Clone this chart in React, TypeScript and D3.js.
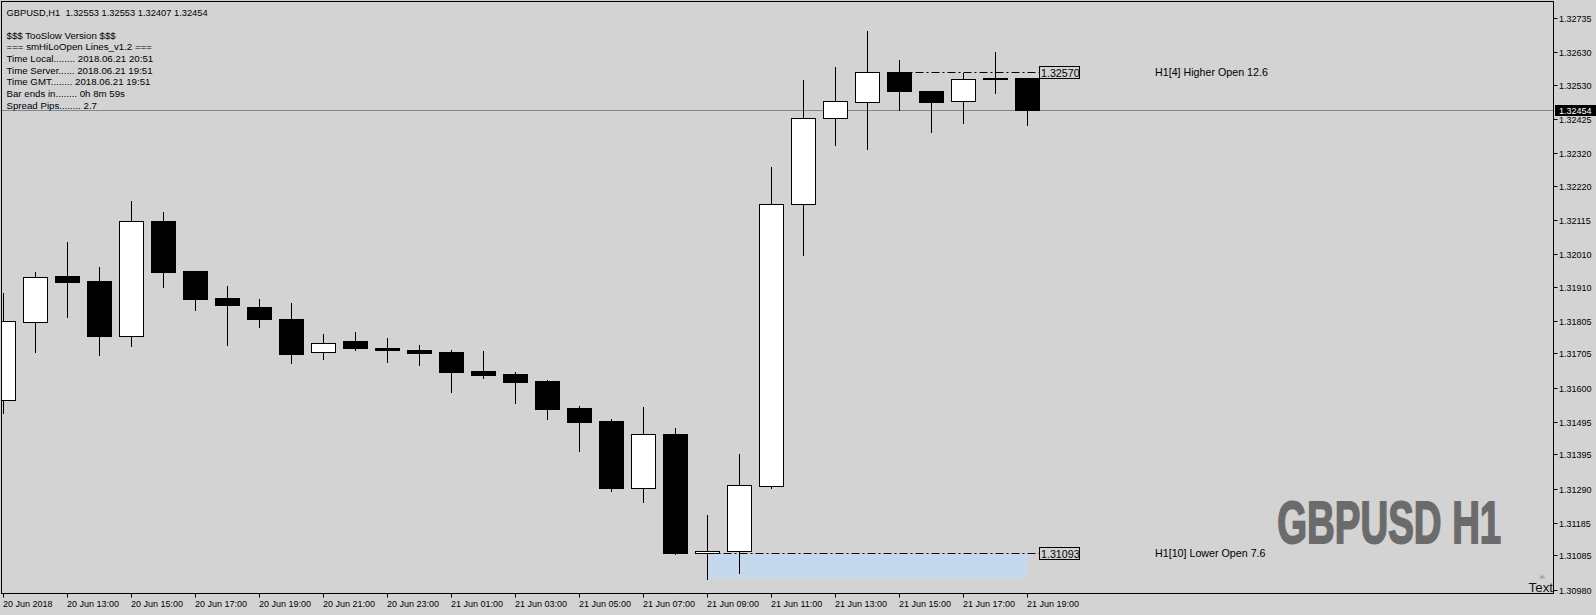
import React from "react";
import * as d3 from "d3";

// ---- data (GBPUSD H1) ----
const barTimes = [
  "2018-06-20 11:00", "2018-06-20 12:00", "2018-06-20 13:00", "2018-06-20 14:00",
  "2018-06-20 15:00", "2018-06-20 16:00", "2018-06-20 17:00", "2018-06-20 18:00",
  "2018-06-20 19:00", "2018-06-20 20:00", "2018-06-20 21:00", "2018-06-20 22:00",
  "2018-06-20 23:00", "2018-06-21 00:00", "2018-06-21 01:00", "2018-06-21 02:00",
  "2018-06-21 03:00", "2018-06-21 04:00", "2018-06-21 05:00", "2018-06-21 06:00",
  "2018-06-21 07:00", "2018-06-21 08:00", "2018-06-21 09:00", "2018-06-21 10:00",
  "2018-06-21 11:00", "2018-06-21 12:00", "2018-06-21 13:00", "2018-06-21 14:00",
  "2018-06-21 15:00", "2018-06-21 16:00", "2018-06-21 17:00", "2018-06-21 18:00",
  "2018-06-21 19:00",
];
const opens = [
  1.31564, 1.31803, 1.31945, 1.31929, 1.31760, 1.32113, 1.31960, 1.31877,
  1.31850, 1.31813, 1.31711, 1.31745, 1.31724, 1.31718, 1.31712, 1.31653,
  1.31644, 1.31623, 1.31540, 1.31500, 1.31295, 1.31460, 1.31093, 1.31099,
  1.31300, 1.32165, 1.32429, 1.32478, 1.32570, 1.32512, 1.32483, 1.32549,
  1.32553,
];
const highs = [
  1.31892, 1.31957, 1.32049, 1.31972, 1.32175, 1.32141, 1.31960, 1.31914,
  1.31874, 1.31862, 1.31767, 1.31773, 1.31755, 1.31733, 1.31718, 1.31715,
  1.31650, 1.31626, 1.31546, 1.31506, 1.31543, 1.31479, 1.31212, 1.31399,
  1.32279, 1.32546, 1.32586, 1.32696, 1.32607, 1.32512, 1.32567, 1.32632,
  1.32553,
];
const lows = [
  1.31525, 1.31710, 1.31817, 1.31703, 1.31731, 1.31911, 1.31841, 1.31734,
  1.31789, 1.31676, 1.31691, 1.31718, 1.31681, 1.31670, 1.31587, 1.31630,
  1.31555, 1.31506, 1.31408, 1.31285, 1.31249, 1.31090, 1.31015, 1.31032,
  1.31292, 1.32010, 1.32348, 1.32333, 1.32454, 1.32387, 1.32415, 1.32507,
  1.32407,
];
const closes = [
  1.31806, 1.31941, 1.31927, 1.31759, 1.32113, 1.31958, 1.31875, 1.31854,
  1.31811, 1.31706, 1.31738, 1.31722, 1.31716, 1.31709, 1.31650, 1.31641,
  1.31620, 1.31537, 1.31497, 1.31295, 1.31459, 1.31093, 1.31100, 1.31303,
  1.32165, 1.32429, 1.32481, 1.32570, 1.32513, 1.32480, 1.32548, 1.32553,
  1.32454,
];

const timeLabels = [
  "20 Jun 2018", "20 Jun 13:00", "20 Jun 15:00", "20 Jun 17:00", "20 Jun 19:00",
  "20 Jun 21:00", "20 Jun 23:00", "21 Jun 01:00", "21 Jun 03:00", "21 Jun 05:00",
  "21 Jun 07:00", "21 Jun 09:00", "21 Jun 11:00", "21 Jun 13:00", "21 Jun 15:00",
  "21 Jun 17:00", "21 Jun 19:00",
];
const priceTicks = [
  1.32735, 1.32630, 1.32530, 1.32425, 1.32320, 1.32220, 1.32115, 1.32010, 1.31910,
  1.31805, 1.31705, 1.31600, 1.31495, 1.31395, 1.31290, 1.31185, 1.31085, 1.30980,
];
const legendLines = [
  "$$$ TooSlow Version $$$",
  "=== smHiLoOpen Lines_v1.2 ===",
  "Time Local........ 2018.06.21 20:51",
  "Time Server...... 2018.06.21 19:51",
  "Time GMT........ 2018.06.21 19:51",
  "Bar ends in........ 0h 8m 59s",
  "Spread Pips........ 2.7",
];
const headerText = "GBPUSD,H1  1.32553 1.32553 1.32407 1.32454";
const currentPrice = 1.32454;
const higherOpenIndex = 28; // H1[4]
const lowerOpenIndex = 22; // H1[10]
const higherOpenText = "H1[4] Higher Open 12.6";
const lowerOpenText = "H1[10] Lower Open 7.6";
const watermark = "GBPUSD H1";

const W = 1596;
const H = 615;
const PL = 1.5, PT = 1.5, PR = 1553.5, PB = 593.5;
const FONT = "'Liberation Sans', Arial, sans-serif";
const BG = "#d3d3d3";

export default function App() {
  const x = d3.scalePoint<string>().domain(barTimes).range([3.5, 3.5 + 32 * (barTimes.length - 1)]);
  const y = d3.scaleLinear().domain([1.3098, 1.32735]).range([590.1, 18.5]);
  const px = (v: number) => Math.floor(y(v)) + 0.5;

  const bars = barTimes.map((t, i) => ({ t, o: opens[i], h: highs[i], l: lows[i], c: closes[i] }));

  const yCur = px(currentPrice);
  const hoX = x(barTimes[higherOpenIndex])!;
  const hoY = px(opens[higherOpenIndex]);
  const loX = x(barTimes[lowerOpenIndex])!;
  const loY = px(opens[lowerOpenIndex]);
  const loLowY = y(lows[lowerOpenIndex]);
  const lastX = x(barTimes[barTimes.length - 1])!;
  const boxX = 1039.5;
  const dash = "8,3,2,3";

  return (
    <div style={{ position: "absolute", left: 0, top: 0, width: W, height: H }}>
      <svg width={W} height={H} style={{ display: "block" }} fontFamily={FONT}>
        <rect x={0} y={0} width={W} height={H} fill={BG} />
        <defs>
          <clipPath id="plot">
            <rect x={PL} y={PT} width={PR - PL} height={PB - PT} />
          </clipPath>
        </defs>

        <g clipPath="url(#plot)">
          {/* lower open zone */}
          <rect x={loX} y={y(opens[lowerOpenIndex])} width={lastX - loX} height={loLowY - y(opens[lowerOpenIndex])} fill="#c6d8eb" />
          {/* current price line */}
          <line x1={PL} x2={PR} y1={yCur} y2={yCur} stroke="#778899" strokeWidth={1} />
          {/* dash-dot lines */}
          <line x1={hoX} x2={boxX} y1={hoY} y2={hoY} stroke="#000" strokeWidth={1} strokeDasharray={dash} />
          <line x1={loX} x2={boxX} y1={loY} y2={loY} stroke="#000" strokeWidth={1} strokeDasharray={dash} />

          {/* candles */}
          {bars.map((b, i) => {
            const xc = x(b.t)!;
            const top = Math.round(y(Math.max(b.o, b.c)));
            const bot = Math.round(y(Math.min(b.o, b.c)));
            const bull = b.c >= b.o;
            return (
              <g key={i}>
                <line x1={xc} x2={xc} y1={Math.round(y(b.h))} y2={Math.round(y(b.l)) + 1} stroke="#000" strokeWidth={1} />
                <rect x={xc - 12} y={top + 0.5} width={24} height={Math.max(bot - top, 0)} fill={bull ? "#fff" : "#000"} stroke="#000" strokeWidth={1} />
              </g>
            );
          })}

          {/* legend */}
          <text x={6.5} y={15.6} fontSize={9.3} fill="#000" style={{ whiteSpace: "pre" }}>{headerText}</text>
          {legendLines.map((s, i) => (
            <text key={i} x={6.5} y={38.6 + i * 11.7} fontSize={9.7} fill="#000" style={{ whiteSpace: "pre" }}>{s}</text>
          ))}

          {/* labels */}
          <text x={1155} y={76} fontSize={10.7} fill="#000">{higherOpenText}</text>
          <text x={1155} y={557} fontSize={10.7} fill="#000">{lowerOpenText}</text>
          <text transform="translate(1277.2,543.3) scale(1,1.55)" x={0} y={0} fontSize={38.4} fontWeight="bold" fill="#6b6b6b" stroke="#6b6b6b" strokeWidth={1.2}>{watermark}</text>
          <text x={1542} y={578.5} fontSize={7} fill="#7a7a7a" textAnchor="middle">☠</text>
          <text x={1553} y={592} fontSize={13.3} fill="#111" textAnchor="end">Text</text>
        </g>

        {/* price boxes */}
        <rect x={boxX} y={hoY - 6} width={40} height={12} fill={BG} stroke="#000" />
        <text x={boxX + 1.5} y={hoY + 4} fontSize={10.7} fill="#000">{opens[higherOpenIndex].toFixed(5)}</text>
        <rect x={boxX} y={loY - 6} width={40} height={12} fill={BG} stroke="#000" />
        <text x={boxX + 1.5} y={loY + 4} fontSize={10.7} fill="#000">{opens[lowerOpenIndex].toFixed(5)}</text>

        {/* frame */}
        <rect x={PL} y={PT} width={PR - PL} height={PB - PT} fill="none" stroke="#000" strokeWidth={1} />

        {/* y axis */}
        {priceTicks.map((v, i) => {
          const yy = px(v);
          return (
            <g key={i}>
              <line x1={PR} x2={PR + 4} y1={yy} y2={yy} stroke="#000" />
              <text x={1559} y={yy + 3.2} fontSize={9} fill="#000">{v.toFixed(5)}</text>
            </g>
          );
        })}
        <rect x={1555} y={yCur - 5.5} width={41} height={11} fill="#000" />
        <text x={1559} y={yCur + 3.2} fontSize={9} fill="#fff">{currentPrice.toFixed(5)}</text>

        {/* x axis */}
        {timeLabels.map((s, k) => {
          const xc = x(barTimes[k * 2])!;
          return (
            <g key={k}>
              <line x1={xc} x2={xc} y1={PB} y2={PB + 4} stroke="#000" />
              <text x={xc - 0.5} y={607.3} fontSize={9} fill="#000">{s}</text>
            </g>
          );
        })}
      </svg>
    </div>
  );
}
